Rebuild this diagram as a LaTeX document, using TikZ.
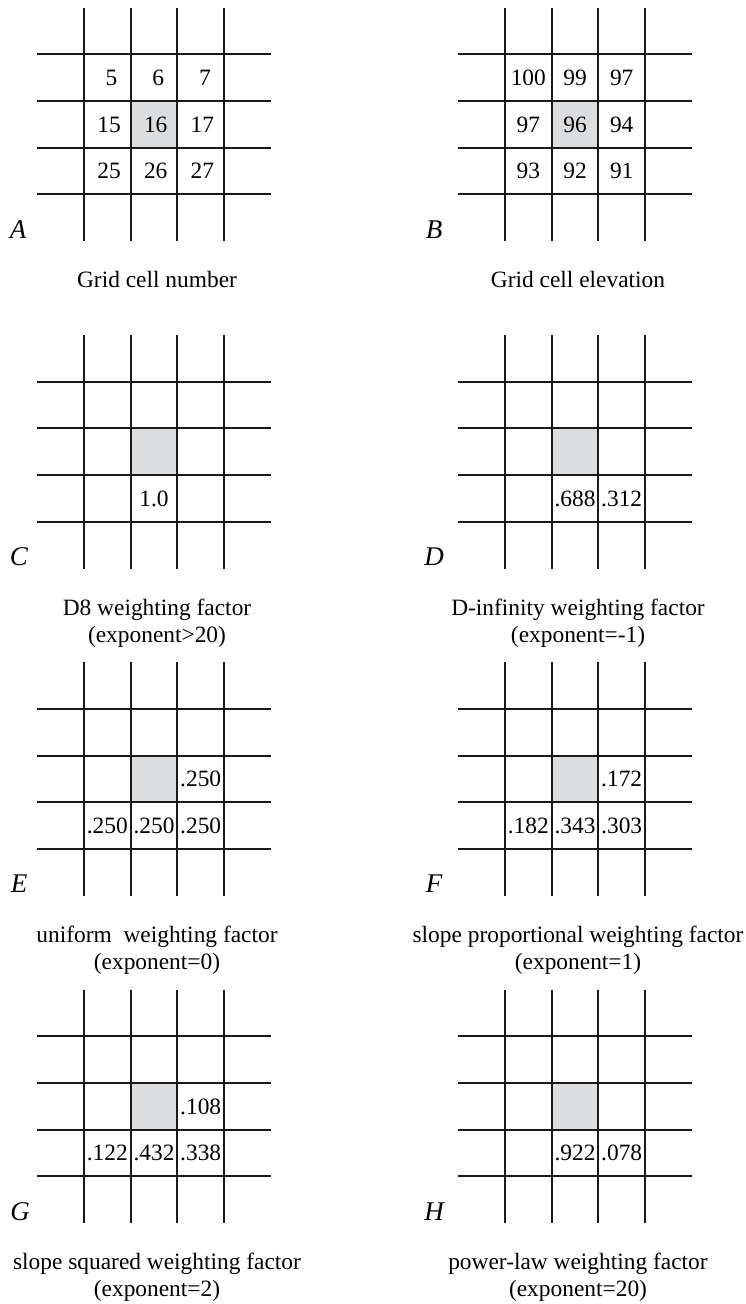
\documentclass[tikz,border=0pt]{standalone}
\usepackage{fontspec}
\setmainfont{Liberation Serif}
\usepackage{xcolor}
\usepackage{tikz}
\usetikzlibrary{positioning}
\definecolor{cellgray}{RGB}{220,221,223}

\begin{document}
\begin{tikzpicture}[x=0.5pt, y=-0.5pt,
  gridline/.style={line width=1pt, color=black!90},
  val/.style={font=\fontsize{11.7}{13.5}\selectfont, inner sep=0pt},
  valr/.style={val, text width=1em, align=right},
  panel/.style={font=\fontsize{13.5}{15}\selectfont\itshape, inner sep=0pt},
  caption/.style={font=\fontsize{11.7}{13.5}\selectfont, align=center, anchor=base, inner sep=0pt}
]
\useasboundingbox (0,0) rectangle (745,1304);

%% Grids
\foreach \cx/\cy in {154/124.5, 575/124.5, 154/451.8, 575/451.8, 154/779.1, 575/779.1, 154/1106.4, 575/1106.4} {
  \fill[cellgray] (\cx-23.35,\cy-23.35) rectangle (\cx+23.35,\cy+23.35);
  \foreach \d in {-70,-23.35,23.35,70} {
    \draw[gridline] (\cx+\d,\cy-116.7) -- (\cx+\d,\cy+116.7);
    \draw[gridline] (\cx-116.7,\cy+\d) -- (\cx+116.7,\cy+\d);
  }
}

%% A: cell numbers
\node[valr] (a5) at (107.3,77.8) {5};
\node[valr] (a6) at (154,77.8) {6};
\node[valr] (a7) at (200.7,77.8) {7};
\node[valr] (a15) at (107.3,124.5) {15};
\node[valr] (a16) at (154,124.5) {16};
\node[valr] (a17) at (200.7,124.5) {17};
\node[valr] (a25) at (107.3,171.2) {25};
\node[valr] (a26) at (154,171.2) {26};
\node[valr] (a27) at (200.7,171.2) {27};

%% B: elevations
\node[val] (b1) at (528.3,77.8) {100};
\node[val] (b2) at (575,77.8) {99};
\node[val] (b3) at (621.7,77.8) {97};
\node[val] (b4) at (528.3,124.5) {97};
\node[val] (b5) at (575,124.5) {96};
\node[val] (b6) at (621.7,124.5) {94};
\node[val] (b7) at (528.3,171.2) {93};
\node[val] (b8) at (575,171.2) {92};
\node[val] (b9) at (621.7,171.2) {91};

%% C, D
\node[val] (c8) at (154,498.5) {1.0};
\node[val] (d8) at (575,498.5) {.688};
\node[val] (d9) at (621.7,498.5) {.312};

%% E, F
\node[val] (e6) at (200.7,779.1) {.250};
\node[val] (e7) at (107.3,825.8) {.250};
\node[val] (e8) at (154,825.8) {.250};
\node[val] (e9) at (200.7,825.8) {.250};
\node[val] (f6) at (621.7,779.1) {.172};
\node[val] (f7) at (528.3,825.8) {.182};
\node[val] (f8) at (575,825.8) {.343};
\node[val] (f9) at (621.7,825.8) {.303};

%% G, H
\node[val] (g6) at (200.7,1106.4) {.108};
\node[val] (g7) at (107.3,1153.1) {.122};
\node[val] (g8) at (154,1153.1) {.432};
\node[val] (g9) at (200.7,1153.1) {.338};
\node[val] (h8) at (575,1153.1) {.922};
\node[val] (h9) at (621.7,1153.1) {.078};

%% Panel letters
\node[panel] (labA) at (18,229.5) {A};
\node[panel] (labB) at (434,229.5) {B};
\node[panel] (labC) at (19,556.8) {C};
\node[panel] (labD) at (434,556.8) {D};
\node[panel] (labE) at (19,884.1) {E};
\node[panel] (labF) at (434,884.1) {F};
\node[panel] (labG) at (20,1211.4) {G};
\node[panel] (labH) at (434,1211.4) {H};

%% Captions (base = last line)
\node[caption] (capA) at (157,288) {Grid cell number};
\node[caption] (capB) at (578,288) {Grid cell elevation};
\node[caption] (capC) at (157,642.3) {D8 weighting factor\\(exponent>20)};
\node[caption] (capD) at (578,642.3) {D-infinity weighting factor\\(exponent=-1)};
\node[caption] (capE) at (157,969.6) {uniform~ weighting factor\\(exponent=0)};
\node[caption] (capF) at (578,969.6) {slope proportional weighting factor\\(exponent=1)};
\node[caption] (capG) at (157,1296.9) {slope squared weighting factor\\(exponent=2)};
\node[caption] (capH) at (578,1296.9) {power-law weighting factor\\(exponent=20)};

\end{tikzpicture}
\end{document}
